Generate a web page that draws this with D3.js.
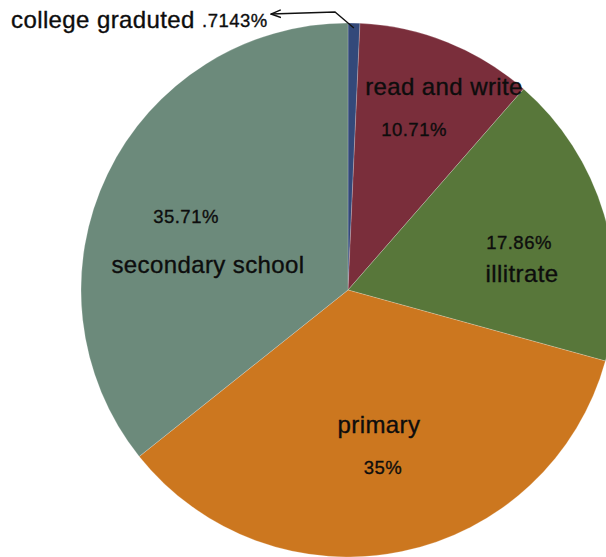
<!DOCTYPE html>
<html>
<head>
<meta charset="utf-8">
<script src="https://cdn.jsdelivr.net/npm/d3@7"></script>
<style>
  html, body { margin: 0; padding: 0; background: #fff; }
  svg { display: block; }
  text { font-family: "Liberation Sans", Arial, Helvetica, sans-serif; fill: #0d0d0d; stroke: #0d0d0d; stroke-width: 0.35px; }
  text.name { font-size: 24px; letter-spacing: 0.4px; }
  text.pct { font-size: 18.5px; letter-spacing: 0.5px; }
</style>
</head>
<body>
<svg id="chart" width="606" height="557"></svg>
<script>
// ---- data ----
const categories = ["college graduted", "read and write", "illitrate", "primary", "secondary school"];
const values = [0.7143, 10.71, 17.86, 35, 35.71];
const percentLabels = [".7143%", "10.71%", "17.86%", "35%", "35.71%"];
const colors = ["#33497a", "#7a2e3b", "#58773a", "#cc771f", "#6c8a7b"];

// ---- layout (label placement, not data) ----
const W = 606, H = 557;
const cx = 348, cy = 290, R = 267;
// name / percent baselines relative to the pie centre
const nameLayout = [null, [96, -195], [174, -8], [31, 143], [-140, -17]];
const pctLayout  = [null, [66, -154], [171, -41], [35, 184], [-162, -67]];

const svg = d3.select("#chart");
const g = svg.append("g").attr("transform", `translate(${cx},${cy})`);

const pie = d3.pie().sort(null).value(d => d.value);
const arc = d3.arc().innerRadius(0).outerRadius(R);
const data = categories.map((c, i) => ({ name: c, value: values[i], pct: percentLabels[i], color: colors[i] }));
const arcs = pie(data);

g.selectAll("path.slice")
  .data(arcs)
  .enter().append("path")
  .attr("class", "slice")
  .attr("d", arc)
  .attr("fill", d => d.data.color)
  .attr("stroke", "rgba(255,255,255,0.35)")
  .attr("stroke-width", 0.6);

// in-slice labels
arcs.forEach((a, i) => {
  if (!nameLayout[i]) return;
  g.append("text").attr("class", "name")
    .attr("x", nameLayout[i][0]).attr("y", nameLayout[i][1])
    .attr("text-anchor", "middle")
    .text(a.data.name);
  g.append("text").attr("class", "pct")
    .attr("x", pctLayout[i][0]).attr("y", pctLayout[i][1])
    .attr("text-anchor", "middle")
    .text(a.data.pct);
});

// callout for the tiny slice
const small = arcs[0];
const midA = (small.startAngle + small.endAngle) / 2;
const tip = [Math.sin(midA) * (R - 5), -Math.cos(midA) * (R - 5)];

const defs = svg.append("defs");
defs.append("marker")
  .attr("id", "arrow")
  .attr("viewBox", "0 0 10 10")
  .attr("refX", 1).attr("refY", 5)
  .attr("markerWidth", 11).attr("markerHeight", 11)
  .attr("markerUnits", "userSpaceOnUse")
  .attr("orient", "auto")
  .append("path")
  .attr("d", "M10,1.5 L1,5 L10,8.5")
  .attr("fill", "none")
  .attr("stroke", "#111")
  .attr("stroke-width", 1.3);

g.append("path")
  .attr("d", d3.line()([[271 - cx, 14 - cy], [335 - cx, 12 - cy], [tip[0], tip[1]]]))
  .attr("fill", "none")
  .attr("stroke", "#111")
  .attr("stroke-width", 1.3)
  .attr("marker-start", "url(#arrow)");

svg.append("text").attr("class", "name")
  .attr("x", 11).attr("y", 28)
  .text(small.data.name);
svg.append("text").attr("class", "pct")
  .attr("x", 202).attr("y", 27)
  .text(small.data.pct);
</script>
</body>
</html>
